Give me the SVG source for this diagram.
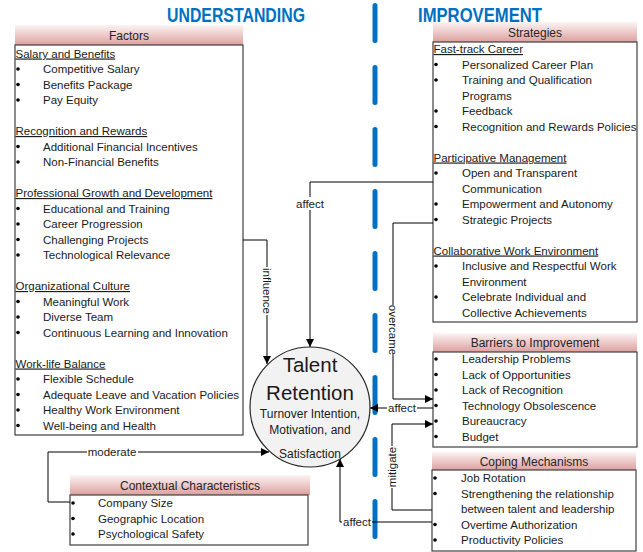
<svg xmlns="http://www.w3.org/2000/svg" width="643" height="552" viewBox="0 0 643 552">
<defs>
<linearGradient id="hdr" x1="0" y1="0" x2="0" y2="1">
<stop offset="0" stop-color="#FDF4F4"/>
<stop offset="1" stop-color="#DCA09E"/>
</linearGradient>
<marker id="arr" viewBox="0 0 10 10" refX="10" refY="5" markerWidth="9" markerHeight="8" markerUnits="userSpaceOnUse" orient="auto">
<path d="M0,0 L10,5 L0,10 z" fill="#000"/>
</marker>
</defs>
<style>
text{font-family:"Liberation Sans",Arial,sans-serif;fill:#1a1a1a}
.t{font-size:11.5px}
.h{font-size:12px;text-anchor:middle;fill:#262626}
.u{text-decoration:underline}
.title{font-size:19.5px;font-weight:bold;fill:#0070C0}
.hb{fill:url(#hdr)}
.body{fill:#fff;stroke:#404040;stroke-width:1.2}
.b{fill:#000}
.c{fill:none;stroke:#000;stroke-width:1}
.lbl{font-size:11.5px;text-anchor:middle}
.bg{fill:#fff}
.dash{stroke:#0070C0;stroke-width:5;stroke-linecap:round;stroke-dasharray:35 27;fill:none}
.big{font-size:20.5px;text-anchor:middle}
.sm{font-size:12px;text-anchor:middle}
</style>
<rect width="643" height="552" fill="#fff"/>
<line class="dash" x1="375" y1="5.5" x2="375" y2="545"/>
<text class="title" x="167" y="22" textLength="138" lengthAdjust="spacingAndGlyphs">UNDERSTANDING</text>
<text class="title" x="418" y="22" textLength="124" lengthAdjust="spacingAndGlyphs">IMPROVEMENT</text>

<g id="factors">
<rect class="hb" x="15" y="25" width="228" height="20"/>
<text class="h" x="129" y="39.5">Factors</text>
<rect class="body" x="15" y="45" width="228" height="390"/>
<text class="t u" x="15.5" y="57.5">Salary and Benefits</text>
<circle class="b" cx="18" cy="69" r="1.8"/><text class="t" x="43" y="73">Competitive Salary</text>
<circle class="b" cx="18" cy="84.5" r="1.8"/><text class="t" x="43" y="88.5">Benefits Package</text>
<circle class="b" cx="18" cy="100" r="1.8"/><text class="t" x="43" y="104">Pay Equity</text>
<text class="t u" x="15.5" y="135">Recognition and Rewards</text>
<circle class="b" cx="18" cy="146.5" r="1.8"/><text class="t" x="43" y="150.5">Additional Financial Incentives</text>
<circle class="b" cx="18" cy="162" r="1.8"/><text class="t" x="43" y="166">Non-Financial Benefits</text>
<text class="t u" x="15.5" y="197">Professional Growth and Development</text>
<circle class="b" cx="18" cy="208.5" r="1.8"/><text class="t" x="43" y="212.5">Educational and Training</text>
<circle class="b" cx="18" cy="224" r="1.8"/><text class="t" x="43" y="228">Career Progression</text>
<circle class="b" cx="18" cy="239.5" r="1.8"/><text class="t" x="43" y="243.5">Challenging Projects</text>
<circle class="b" cx="18" cy="255" r="1.8"/><text class="t" x="43" y="259">Technological Relevance</text>
<text class="t u" x="15.5" y="290">Organizational Culture</text>
<circle class="b" cx="18" cy="301.5" r="1.8"/><text class="t" x="43" y="305.5">Meaningful Work</text>
<circle class="b" cx="18" cy="317" r="1.8"/><text class="t" x="43" y="321">Diverse Team</text>
<circle class="b" cx="18" cy="332.5" r="1.8"/><text class="t" x="43" y="336.5">Continuous Learning and Innovation</text>
<text class="t u" x="15.5" y="367.5">Work-life Balance</text>
<circle class="b" cx="18" cy="379" r="1.8"/><text class="t" x="43" y="383">Flexible Schedule</text>
<circle class="b" cx="18" cy="394.5" r="1.8"/><text class="t" x="43" y="398.5">Adequate Leave and Vacation Policies</text>
<circle class="b" cx="18" cy="410" r="1.8"/><text class="t" x="43" y="414">Healthy Work Environment</text>
<circle class="b" cx="18" cy="425.5" r="1.8"/><text class="t" x="43" y="429.5">Well-being and Health</text>
</g>

<g id="strategies">
<rect class="hb" x="433" y="22" width="204" height="20"/>
<text class="h" x="535" y="36.5">Strategies</text>
<rect class="body" x="433" y="42" width="204" height="280"/>
<text class="t u" x="433.5" y="53">Fast-track Career</text>
<circle class="b" cx="436" cy="64.5" r="1.8"/><text class="t" x="462" y="68.5">Personalized Career Plan</text>
<circle class="b" cx="436" cy="80" r="1.8"/><text class="t" x="462" y="84">Training and Qualification</text>
<text class="t" x="462" y="99.5">Programs</text>
<circle class="b" cx="436" cy="111" r="1.8"/><text class="t" x="462" y="115">Feedback</text>
<circle class="b" cx="436" cy="126.5" r="1.8"/><text class="t" x="462" y="130.5">Recognition and Rewards Policies</text>
<text class="t u" x="433.5" y="161.5">Participative Management</text>
<circle class="b" cx="436" cy="173" r="1.8"/><text class="t" x="462" y="177">Open and Transparent</text>
<text class="t" x="462" y="192.5">Communication</text>
<circle class="b" cx="436" cy="204" r="1.8"/><text class="t" x="462" y="208">Empowerment and Autonomy</text>
<circle class="b" cx="436" cy="219.5" r="1.8"/><text class="t" x="462" y="223.5">Strategic Projects</text>
<text class="t u" x="433.5" y="254.5">Collaborative Work Environment</text>
<circle class="b" cx="436" cy="266" r="1.8"/><text class="t" x="462" y="270">Inclusive and Respectful Work</text>
<text class="t" x="462" y="285.5">Environment</text>
<circle class="b" cx="436" cy="297" r="1.8"/><text class="t" x="462" y="301">Celebrate Individual and</text>
<text class="t" x="462" y="316.5">Collective Achievements</text>
</g>

<g id="barriers">
<rect class="hb" x="433" y="333" width="204" height="19"/>
<text class="h" x="535" y="347">Barriers to Improvement</text>
<rect class="body" x="433" y="352" width="204" height="95"/>
<circle class="b" cx="436" cy="359" r="1.8"/><text class="t" x="462" y="363">Leadership Problems</text>
<circle class="b" cx="436" cy="374.5" r="1.8"/><text class="t" x="462" y="378.5">Lack of Opportunities</text>
<circle class="b" cx="436" cy="390" r="1.8"/><text class="t" x="462" y="394">Lack of Recognition</text>
<circle class="b" cx="436" cy="405.5" r="1.8"/><text class="t" x="462" y="409.5">Technology Obsolescence</text>
<circle class="b" cx="436" cy="421" r="1.8"/><text class="t" x="462" y="425">Bureaucracy</text>
<circle class="b" cx="436" cy="436.5" r="1.8"/><text class="t" x="462" y="440.5">Budget</text>
</g>

<g id="coping">
<rect class="hb" x="432" y="452" width="204" height="18"/>
<text class="h" x="534" y="465.5">Coping Mechanisms</text>
<rect class="body" x="432" y="470" width="204" height="81"/>
<circle class="b" cx="435" cy="478" r="1.8"/><text class="t" x="461" y="482">Job Rotation</text>
<circle class="b" cx="435" cy="493.5" r="1.8"/><text class="t" x="461" y="497.5">Strengthening the relationship</text>
<text class="t" x="461" y="513">between talent and leadership</text>
<circle class="b" cx="435" cy="524.5" r="1.8"/><text class="t" x="461" y="528.5">Overtime Authorization</text>
<circle class="b" cx="435" cy="540" r="1.8"/><text class="t" x="461" y="544">Productivity Policies</text>
</g>

<g id="contextual">
<rect class="hb" x="70" y="475" width="240" height="20"/>
<text class="h" x="190" y="489.5">Contextual Characteristics</text>
<rect class="body" x="70" y="495" width="238" height="50"/>
<circle class="b" cx="73" cy="503" r="1.8"/><text class="t" x="98" y="507">Company Size</text>
<circle class="b" cx="73" cy="518.5" r="1.8"/><text class="t" x="98" y="522.5">Geographic Location</text>
<circle class="b" cx="73" cy="534" r="1.8"/><text class="t" x="98" y="538">Psychological Safety</text>
</g>

<g id="connectors">
<path class="c" d="M243,240 H267 V364" marker-end="url(#arr)"/>
<rect class="bg" x="261" y="267" width="12" height="48"/>
<text class="lbl" transform="translate(267,291) rotate(90)" dy="4">influence</text>

<path class="c" d="M433,182 H310 V347" marker-end="url(#arr)"/>
<rect class="bg" x="295" y="197" width="31" height="13"/>
<text class="lbl" x="310" y="207.5">affect</text>

<path class="c" d="M433,223 H393 V399 H433" marker-end="url(#arr)"/>
<rect class="bg" x="387" y="305" width="12" height="50"/>
<text class="lbl" transform="translate(393,330) rotate(90)" dy="4">overcame</text>

<path class="c" d="M433,408 H370" marker-end="url(#arr)"/>
<rect class="bg" x="387" y="402" width="30" height="13"/>
<text class="lbl" x="402" y="412">affect</text>

<path class="c" d="M432,510 H392 V424 H433" marker-end="url(#arr)"/>
<rect class="bg" x="386" y="446" width="12" height="42"/>
<text class="lbl" transform="translate(392,467) rotate(-90)" dy="4">mitigate</text>

<path class="c" d="M432,522 H340 V459" marker-end="url(#arr)"/>
<rect class="bg" x="342" y="516" width="30" height="13"/>
<text class="lbl" x="357" y="526">affect</text>

<path class="c" d="M70,502 H48 V452 H269" marker-end="url(#arr)"/>
<rect class="bg" x="87" y="446" width="51" height="13"/>
<text class="lbl" x="112" y="456">moderate</text>
</g>

<g id="talent-retention">
<circle cx="310" cy="407" r="60" fill="#F2F2F2" stroke="#262626" stroke-width="1.2"/>
<text class="big" x="310" y="372">Talent</text>
<text class="big" x="310" y="400">Retention</text>
<text class="sm" x="310" y="417.5">Turnover Intention,</text>
<text class="sm" x="310" y="433.5">Motivation, and</text>
<text class="sm" x="310" y="457.5">Satisfaction</text>
</g>
</svg>
